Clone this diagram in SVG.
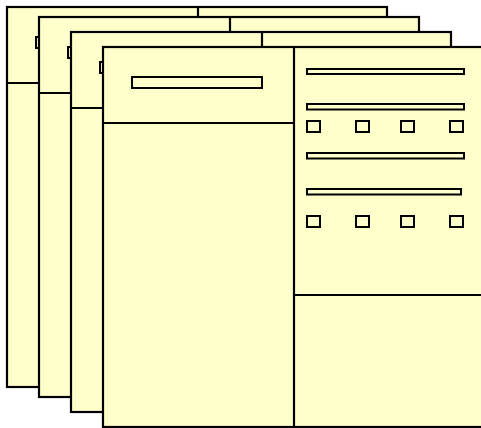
<svg xmlns="http://www.w3.org/2000/svg" xmlns:xlink="http://www.w3.org/1999/xlink" width="481" height="428" viewBox="0 0 481 428">
  <style>
    .sheet { fill: #FFFFCC; stroke: #000; stroke-width: 2.2; }
    .rule { stroke: #000; stroke-width: 1.8; fill: none; }
    .divider { stroke: #000; stroke-width: 2.2; fill: none; }
    .field { fill: #FFFFCC; stroke: #000; stroke-width: 2; }
  </style>
  <defs>
    <!-- one form sheet: title field on the left, field list on the right -->
    <g id="sheet">
      <rect class="sheet" x="0" y="0" width="380" height="380"/>
      <line class="divider" x1="191" y1="0" x2="191" y2="380"/>
      <line class="rule" x1="0" y1="76" x2="191" y2="76"/>
      <line class="rule" x1="191" y1="248" x2="380" y2="248"/>
      <rect class="field" x="29" y="30" width="130" height="11"/>
      <rect class="field" x="204" y="22" width="157" height="5"/>
      <rect class="field" x="204" y="57" width="157" height="5.5"/>
      <rect class="field" x="204" y="74" width="13" height="11"/>
      <rect class="field" x="253" y="74" width="13" height="11"/>
      <rect class="field" x="298" y="74" width="13" height="11"/>
      <rect class="field" x="347" y="74" width="13" height="11"/>
      <rect class="field" x="204" y="106" width="157" height="5.5"/>
      <rect class="field" x="204" y="142" width="154" height="5.5"/>
      <rect class="field" x="204" y="169" width="13" height="11"/>
      <rect class="field" x="253" y="169" width="13" height="11"/>
      <rect class="field" x="298" y="169" width="13" height="11"/>
      <rect class="field" x="347" y="169" width="13" height="11"/>
    </g>
  </defs>
  <g id="sheet-1"><use href="#sheet" xlink:href="#sheet" transform="translate(7,7)"/></g>
  <g id="sheet-2"><use href="#sheet" xlink:href="#sheet" transform="translate(39,17)"/></g>
  <g id="sheet-3"><use href="#sheet" xlink:href="#sheet" transform="translate(71,32)"/></g>
  <g id="sheet-4"><use href="#sheet" xlink:href="#sheet" transform="translate(103,47)"/></g>
  <g id="connectors"/>
</svg>
